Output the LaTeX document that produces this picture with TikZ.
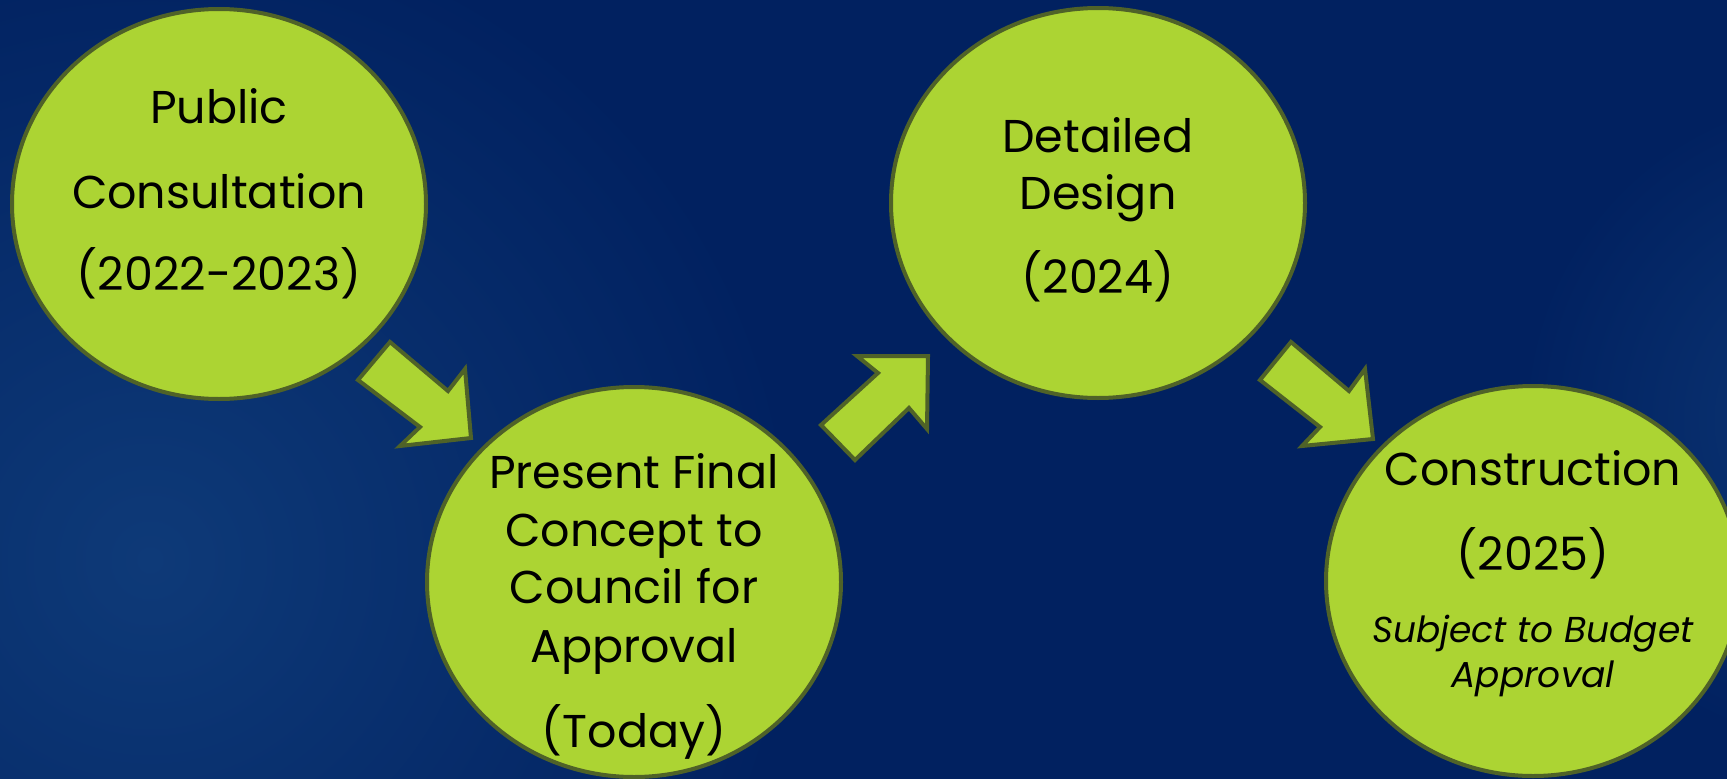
\documentclass[tikz,border=0pt]{standalone}
\usepackage{fontspec}
\setmainfont{Poppins}
\usetikzlibrary{shapes.geometric}
\definecolor{bgnavy}{RGB}{1,33,96}
\definecolor{glow}{RGB}{14,58,120}
\definecolor{lime}{RGB}{172,212,51}
\definecolor{olive}{RGB}{79,98,40}
\tikzset{
 stage/.style={ellipse, fill=lime, draw=olive, line width=4pt, minimum width=414pt, minimum height=390pt, inner sep=0pt},
 blockarrow/.style={fill=lime, draw=olive, line width=4pt, line join=miter},
 lbl/.style={anchor=base, font=\fontsize{46}{56}\selectfont, text=black, inner sep=0pt},
 note/.style={anchor=base, font=\fontsize{36}{42}\selectfont\itshape, text=black, inner sep=0pt},
}
\begin{document}
\begin{tikzpicture}[x=1pt,y=-1pt]
\useasboundingbox (0,0) rectangle (1727,779);
\fill[bgnavy] (0,0) rectangle (1727,779);
\begin{scope}
\clip (0,0) rectangle (1727,779);
\shade[inner color=glow, outer color=bgnavy] (150,560) circle (650);
\shade[inner color=glow!85!bgnavy, outer color=bgnavy] (1850,420) circle (330);
\end{scope}

% stages
\node[stage] (s1) at (219,204) {};
\node[stage] (s2) at (634,582) {};
\node[stage] (s3) at (1098,203) {};
\node[stage] (s4) at (1533,581) {};

% block arrows
\draw[blockarrow] (390,342) -- (358,380) -- (420,427) -- (400,446) -- (471,438) -- (465,369) -- (448,391) -- cycle;
\draw[blockarrow] (855,460) -- (821,425) -- (878,373) -- (857,356) -- (928,356) -- (927,429) -- (909,408) -- cycle;
\draw[blockarrow] (1291,342) -- (1260,380) -- (1320,427) -- (1302,446) -- (1373,439) -- (1365,369) -- (1349,391) -- cycle;

% texts
\node[lbl] (t1a) at (219,123) {Public};
\node[lbl] (t1b) at (219,208) {Consultation};
\node[lbl] (t1c) at (219,290) {(2022-2023)};

\node[lbl] (t2a) at (634,488) {Present Final};
\node[lbl] (t2b) at (634,546) {Concept to};
\node[lbl] (t2c) at (634,603) {Council for};
\node[lbl] (t2d) at (634,662) {Approval};
\node[lbl] (t2e) at (634,747) {(Today)};

\node[lbl] (t3a) at (1098,152) {Detailed};
\node[lbl] (t3b) at (1098,209) {Design};
\node[lbl] (t3c) at (1098,293) {(2024)};

\node[lbl] (t4a) at (1533,485) {Construction};
\node[lbl] (t4b) at (1533,570) {(2025)};
\node[note] (t4c) at (1533,642) {Subject to Budget};
\node[note] (t4d) at (1533,687) {Approval};
\end{tikzpicture}
\end{document}
